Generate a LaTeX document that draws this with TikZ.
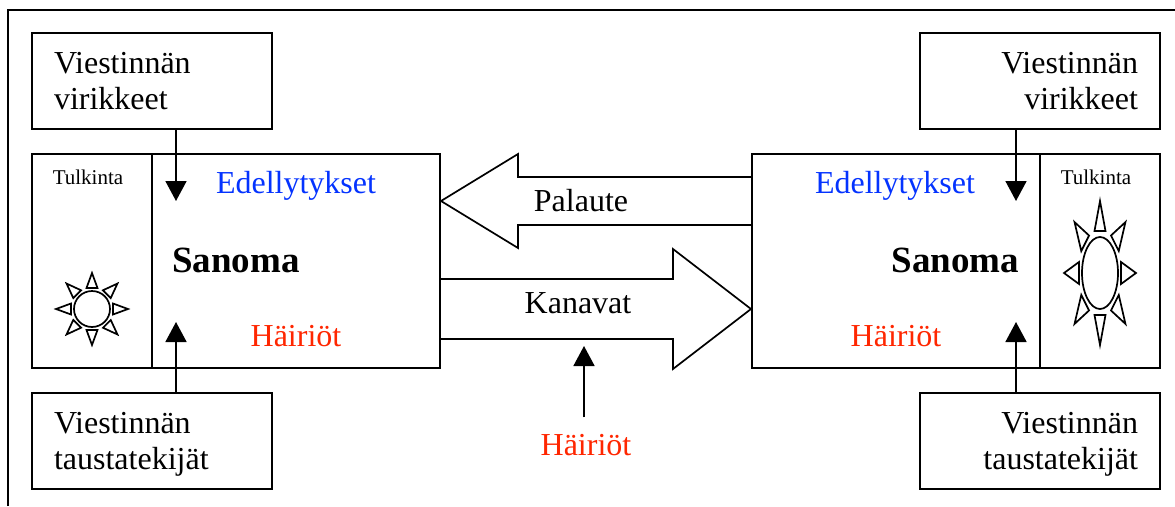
\documentclass[tikz,border=0pt]{standalone}
\usepackage{fontspec}
\setmainfont{Liberation Serif}
\usepackage{tikz}
\usetikzlibrary{arrows.meta}
\usetikzlibrary{positioning}
\definecolor{edelblue}{HTML}{0433FF}
\definecolor{hairred}{HTML}{FF2600}

\tikzset{
  sun/.pic={
    \draw (0,0) circle (18);
    \foreach \ang in {0,45,...,315}
      \draw[rotate=\ang,line join=miter] (0,-36) -- (-5.5,-21) -- (5.5,-21) -- cycle;
  }
}

\begin{document}
\begin{tikzpicture}[x=1pt,y=-1pt,
        >={Triangle[length=20pt,width=21pt]},
        line width=1.7pt,
        on grid,
        txt/.style={font=\fontsize{32}{36}\selectfont,text height=20pt,text depth=0pt},
        small txt/.style={font=\fontsize{21}{24}\selectfont,text height=20pt,text depth=0pt},
        bold txt/.style={font=\fontsize{37}{40}\selectfont\bfseries,text height=20pt,text depth=0pt},
        outer box/.style={draw,minimum width=240pt,minimum height=96pt,text width=196pt,inner xsep=22pt,inner ysep=0pt,text depth=36pt,font=\fontsize{32}{36}\selectfont},
        tulk box/.style={draw,minimum width=120pt,minimum height=214pt},
        viesti box/.style={draw,minimum width=288pt,minimum height=214pt}]

  \useasboundingbox (0,0) rectangle (1175,506);
  \draw (8,506) |- (1175,10);

  \begin{scope}
    \node[tulk box]   (tulk_l) at (92,261) {};
    \node[viesti box] (viesti_l) [right=204pt of tulk_l] {};
    \node[outer box,align=left] (vir_l) [above right=180pt and 60pt of tulk_l] {Viestinnän\\virikkeet};
    \node[outer box,align=left] (tausta_l) [below right=180pt and 60pt of tulk_l] {Viestinnän\\taustatekijät};

    \node[small txt] (tulkinta_l) [above left=87pt and 4pt of tulk_l] {Tulkinta};
    \node[txt,text=edelblue] (edel_l) [above=78pt of viesti_l] {Edellytykset};
    \node[bold txt] (sanoma_l) [below left=1pt and 60pt of viesti_l] {Sanoma};
    \node[txt,text=hairred] (hair_l) [below=75pt of viesti_l] {Häiriöt};

    \coordinate (vir_tip_l) at (176,201);
    \coordinate (tausta_tip_l) at (176,322);
    \pic at (92,309) {sun};

    \path
    (vir_l.south -| vir_tip_l) edge[->] (vir_tip_l)
    (tausta_l.north -| tausta_tip_l) edge[->] (tausta_tip_l);
  \end{scope}

  \begin{scope}
    \node[viesti box] (viesti_r) at (896,261) {};
    \node[tulk box]   (tulk_r) [right=204pt of viesti_r] {};
    \node[outer box,align=right] (vir_r) [above left=180pt and 60pt of tulk_r] {Viestinnän\\virikkeet};
    \node[outer box,align=right] (tausta_r) [below left=180pt and 60pt of tulk_r] {Viestinnän\\taustatekijät};

    \node[small txt] (tulkinta_r) [above left=87pt and 4pt of tulk_r] {Tulkinta};
    \node[txt,text=edelblue] (edel_r) [above left=78pt and 1pt of viesti_r] {Edellytykset};
    \node[bold txt] (sanoma_r) [below right=1pt and 59.5pt of viesti_r] {Sanoma};
    \node[txt,text=hairred] (hair_r) [below=75pt of viesti_r] {Häiriöt};

    \coordinate (vir_tip_r) at (1016,201);
    \coordinate (tausta_tip_r) at (1016,322);
    \pic[yscale=2] at (1100,273) {sun};

    \path
    (vir_r.south -| vir_tip_r) edge[->] (vir_tip_r)
    (tausta_r.north -| tausta_tip_r) edge[->] (tausta_tip_r);
  \end{scope}

  \draw[line join=miter] (752,177) -- (518,177) -- (518,154) -- (441,201) -- (518,248) -- (518,225) -- (752,225);
  \draw[line join=miter] (440,279) -- (673,279) -- (673,249) -- (751,309) -- (673,369) -- (673,339) -- (440,339);

  \node[txt] (palaute) [above right=60pt and 285pt of viesti_l] {Palaute};
  \node[txt] (kanavat) [below right=42pt and 282pt of viesti_l] {Kanavat};
  \node[txt,text=hairred] (hair_m) [below right=184pt and 290pt of viesti_l] {Häiriöt};

  \coordinate (hair_tip) at (584,346);
  \path (hair_tip |- hair_m.north) edge[->,shorten <=13.5pt] (hair_tip);

\end{tikzpicture}
\end{document}
